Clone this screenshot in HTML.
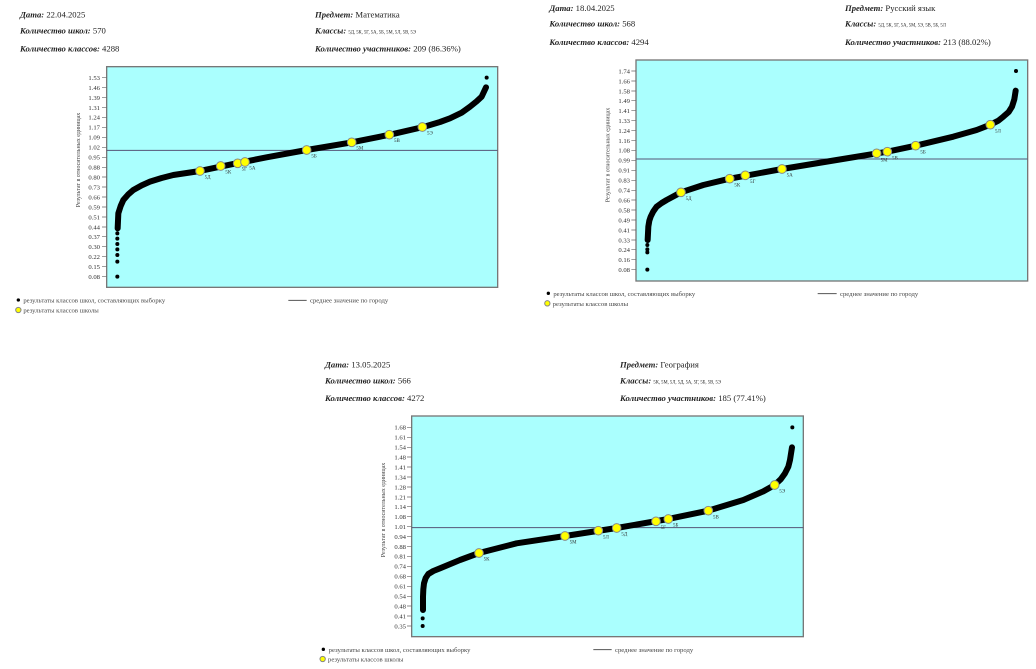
<!DOCTYPE html>
<html><head><meta charset="utf-8"><style>
html,body{margin:0;padding:0;background:#fff;}
svg{display:block;font-family:"Liberation Serif",serif;}
.h{font-size:26px;fill:#222;}
.b{font-weight:bold;font-style:italic;}
.t{font-size:20px;fill:#333;text-anchor:end;}
.l{font-size:20px;fill:#444;}
.c{font-size:15px;fill:#333;}
.k{font-size:14px;}
.yt{font-size:18px;fill:#444;}
.plot{fill:#aafffe;stroke:#777;stroke-width:4;}
.curve{fill:none;stroke:#000;stroke-width:18;stroke-linecap:round;stroke-linejoin:round;}
.y{fill:#ffff00;stroke:#888;stroke-width:3;}
</style></head><body>
<svg width="1036" height="669" viewBox="0 0 1036 669">
<!-- Chart 1 -->
<g transform="scale(0.33333)">
<text class="h" x="60" y="52"><tspan class="b">Дата:</tspan> 22.04.2025</text>
<text class="h" x="60" y="100"><tspan class="b">Количество школ:</tspan>  570</text>
<text class="h" x="60" y="155"><tspan class="b">Количество классов:</tspan> 4288</text>
<text class="h" x="945" y="52"><tspan class="b">Предмет:</tspan> Математика</text>
<text class="h" x="945" y="100"><tspan class="b">Классы:</tspan> <tspan class="k">5Д, 5К, 5Г, 5А, 5Б, 5М, 5Л, 5В, 5Э</tspan></text>
<text class="h" x="945" y="155"><tspan class="b">Количество участников:</tspan> 209 (86.36%)</text>
<rect class="plot" x="320" y="200" width="1173" height="662"/>
<g stroke="#666" stroke-width="2">
<path d="M306 233h14M306 263h14M306 293h14M306 323h14M306 352h14M306 382h14M306 412h14M306 442h14M306 472h14M306 502h14M306 531h14M306 561h14M306 591h14M306 621h14M306 651h14M306 681h14M306 710h14M306 740h14M306 770h14M306 800h14M306 830h14"/></g>
<g class="t">
<text x="300" y="240">1.53</text><text x="300" y="270">1.46</text><text x="300" y="300">1.39</text><text x="300" y="330">1.31</text><text x="300" y="359">1.24</text><text x="300" y="389">1.17</text><text x="300" y="419">1.09</text><text x="300" y="449">1.02</text><text x="300" y="479">0.95</text><text x="300" y="509">0.88</text><text x="300" y="538">0.80</text><text x="300" y="568">0.73</text><text x="300" y="598">0.66</text><text x="300" y="628">0.59</text><text x="300" y="658">0.51</text><text x="300" y="688">0.44</text><text x="300" y="717">0.37</text><text x="300" y="747">0.30</text><text x="300" y="777">0.22</text><text x="300" y="807">0.15</text><text x="300" y="837">0.08</text></g>
<text class="yt" transform="translate(240,480) rotate(-90)" text-anchor="middle">Результат в относительных единицах</text>
<line x1="320" y1="451" x2="1493" y2="451" stroke="#557" stroke-width="3"/>
<path class="curve" d="M353 685 L355 640 L362 618 L370 600 L384 584 L400 570 L425 556 L450 545 L485 534 L520 525 L600 513 L700 492 L800 472 L920 450 L1050 428 L1170 404 L1270 381 L1320 366 L1350 355 L1385 338 L1410 320 L1430 304 L1445 290 L1458 262"/>
<g fill="#000"><circle cx="352" cy="700" r="6"/><circle cx="352" cy="716" r="6"/><circle cx="352" cy="732" r="6"/><circle cx="352" cy="748" r="6"/><circle cx="352" cy="765" r="6"/><circle cx="352" cy="785" r="6"/><circle cx="352" cy="830" r="6"/><circle cx="1460" cy="233" r="6"/></g>
<g><circle class="y" cx="600" cy="513" r="13"/><circle class="y" cx="662" cy="498" r="13"/><circle class="y" cx="713" cy="490" r="13"/><circle class="y" cx="735" cy="486" r="13"/><circle class="y" cx="920" cy="450" r="13"/><circle class="y" cx="1055" cy="427" r="13"/><circle class="y" cx="1168" cy="404" r="13"/><circle class="y" cx="1267" cy="381" r="13"/></g>
<g class="c"><text x="614" y="536">5Д</text><text x="676" y="521">5К</text><text x="725" y="512">5Г</text><text x="748" y="508">5А</text><text x="934" y="472">5Б</text><text x="1069" y="449">5М</text><text x="1182" y="426">5В</text><text x="1281" y="404">5Э</text></g>
<circle cx="55" cy="900" r="5" fill="#000"/><text class="l" x="70" y="908">результаты классов школ, составляющих выборку</text>
<circle class="y" cx="55" cy="930" r="8"/><text class="l" x="70" y="938">результаты классов школы</text>
<line x1="865" y1="901" x2="920" y2="901" stroke="#555" stroke-width="3"/><text class="l" x="930" y="908">среднее значение по городу</text>
</g>
<!-- Chart 2 -->
<g transform="translate(520,0) scale(0.33333)">
<text class="h" x="88" y="33"><tspan class="b">Дата:</tspan> 18.04.2025</text>
<text class="h" x="88" y="80"><tspan class="b">Количество школ:</tspan>  568</text>
<text class="h" x="88" y="135"><tspan class="b">Количество классов:</tspan> 4294</text>
<text class="h" x="975" y="33"><tspan class="b">Предмет:</tspan> Русский язык</text>
<text class="h" x="975" y="80"><tspan class="b">Классы:</tspan> <tspan class="k">5Д, 5К, 5Г, 5А, 5М, 5Э, 5В, 5Б, 5Л</tspan></text>
<text class="h" x="975" y="135"><tspan class="b">Количество участников:</tspan> 213 (88.02%)</text>
<rect class="plot" x="348" y="180" width="1175" height="663"/>
<g stroke="#666" stroke-width="2"><path d="M334 213h14M334 243h14M334 273h14M334 302h14M334 332h14M334 362h14M334 392h14M334 422h14M334 451h14M334 481h14M334 511h14M334 541h14M334 571h14M334 600h14M334 630h14M334 660h14M334 690h14M334 720h14M334 749h14M334 779h14M334 809h14"/></g>
<g class="t">
<text x="330" y="220">1.74</text><text x="330" y="250">1.66</text><text x="330" y="280">1.58</text><text x="330" y="309">1.49</text><text x="330" y="339">1.41</text><text x="330" y="369">1.33</text><text x="330" y="399">1.24</text><text x="330" y="429">1.16</text><text x="330" y="458">1.08</text><text x="330" y="488">0.99</text><text x="330" y="518">0.91</text><text x="330" y="548">0.83</text><text x="330" y="578">0.74</text><text x="330" y="607">0.66</text><text x="330" y="637">0.58</text><text x="330" y="667">0.49</text><text x="330" y="697">0.41</text><text x="330" y="727">0.33</text><text x="330" y="756">0.24</text><text x="330" y="786">0.16</text><text x="330" y="816">0.08</text></g>
<text class="yt" transform="translate(268,465) rotate(-90)" text-anchor="middle">Результат в относительных единицах</text>
<line x1="348" y1="477" x2="1523" y2="477" stroke="#557" stroke-width="3"/>
<path class="curve" d="M383 720 L385 680 L388 662 L392 650 L400 634 L410 620 L425 609 L440 600 L483 577 L550 555 L629 536 L786 507 L950 480 L1102 455 L1187 437 L1300 410 L1370 390 L1411 374 L1435 362 L1450 350 L1466 336 L1476 320 L1483 298 L1487 272"/>
<g fill="#000"><circle cx="382" cy="735" r="6"/><circle cx="382" cy="748" r="6"/><circle cx="382" cy="757" r="6"/><circle cx="382" cy="809" r="6"/><circle cx="1488" cy="213" r="6"/></g>
<g><circle class="y" cx="483" cy="577" r="13"/><circle class="y" cx="629" cy="536" r="13"/><circle class="y" cx="676" cy="526" r="13"/><circle class="y" cx="786" cy="507" r="13"/><circle class="y" cx="1070" cy="460" r="13"/><circle class="y" cx="1102" cy="455" r="13"/><circle class="y" cx="1187" cy="437" r="13"/><circle class="y" cx="1411" cy="374" r="13"/></g>
<g class="c"><text x="497" y="600">5Д</text><text x="643" y="559">5К</text><text x="690" y="549">5Г</text><text x="800" y="530">5А</text><text x="1082" y="484">5М</text><text x="1116" y="478">5В</text><text x="1201" y="460">5Б</text><text x="1425" y="397">5Л</text></g>
<circle cx="85" cy="880" r="5" fill="#000"/><text class="l" x="100" y="888">результаты классов школ, составляющих выборку</text>
<circle class="y" cx="82" cy="910" r="8"/><text class="l" x="98" y="918">результаты классов школы</text>
<line x1="893" y1="881" x2="950" y2="881" stroke="#555" stroke-width="3"/><text class="l" x="960" y="888">среднее значение по городу</text>
</g>
<!-- Chart 3 -->
<g transform="translate(300,350) scale(0.33333)">
<text class="h" x="75" y="52"><tspan class="b">Дата:</tspan> 13.05.2025</text>
<text class="h" x="75" y="100"><tspan class="b">Количество школ:</tspan>  566</text>
<text class="h" x="75" y="153"><tspan class="b">Количество классов:</tspan> 4272</text>
<text class="h" x="960" y="52"><tspan class="b">Предмет:</tspan> География</text>
<text class="h" x="960" y="100"><tspan class="b">Классы:</tspan> <tspan class="k">5К, 5М, 5Л, 5Д, 5А, 5Г, 5Б, 5В, 5Э</tspan></text>
<text class="h" x="960" y="153"><tspan class="b">Количество участников:</tspan> 185 (77.41%)</text>
<rect class="plot" x="335" y="198" width="1175" height="662"/>
<g stroke="#666" stroke-width="2"><path d="M321 232h14M321 262h14M321 292h14M321 321h14M321 351h14M321 381h14M321 411h14M321 441h14M321 470h14M321 500h14M321 530h14M321 560h14M321 590h14M321 619h14M321 649h14M321 679h14M321 709h14M321 739h14M321 768h14M321 798h14M321 828h14"/></g>
<g class="t">
<text x="318" y="239">1.68</text><text x="318" y="269">1.61</text><text x="318" y="299">1.54</text><text x="318" y="328">1.48</text><text x="318" y="358">1.41</text><text x="318" y="388">1.34</text><text x="318" y="418">1.28</text><text x="318" y="448">1.21</text><text x="318" y="477">1.14</text><text x="318" y="507">1.08</text><text x="318" y="537">1.01</text><text x="318" y="567">0.94</text><text x="318" y="597">0.88</text><text x="318" y="626">0.81</text><text x="318" y="656">0.74</text><text x="318" y="686">0.68</text><text x="318" y="716">0.61</text><text x="318" y="746">0.54</text><text x="318" y="775">0.48</text><text x="318" y="805">0.41</text><text x="318" y="835">0.35</text></g>
<text class="yt" transform="translate(255,480) rotate(-90)" text-anchor="middle">Результат в относительных единицах</text>
<line x1="335" y1="533" x2="1510" y2="533" stroke="#557" stroke-width="3"/>
<path class="curve" d="M369 780 L369 740 L370 718 L372 700 L377 684 L385 672 L400 663 L420 655 L480 630 L537 609 L650 580 L795 558 L950 534 L1105 507 L1225 482 L1330 450 L1390 424 L1424 405 L1442 388 L1455 370 L1465 350 L1470 330 L1476 292"/>
<g fill="#000"><circle cx="368" cy="805" r="6"/><circle cx="368" cy="828" r="6"/><circle cx="1477" cy="232" r="6"/></g>
<g><circle class="y" cx="537" cy="609" r="13"/><circle class="y" cx="795" cy="558" r="13"/><circle class="y" cx="895" cy="542" r="13"/><circle class="y" cx="950" cy="534" r="13"/><circle class="y" cx="1068" cy="514" r="13"/><circle class="y" cx="1105" cy="507" r="13"/><circle class="y" cx="1225" cy="482" r="13"/><circle class="y" cx="1424" cy="405" r="13"/></g>
<g class="c"><text x="551" y="632">5К</text><text x="809" y="581">5М</text><text x="909" y="565">5Л</text><text x="964" y="557">5Д</text><text x="1082" y="537">5Г</text><text x="1119" y="530">5Б</text><text x="1239" y="505">5В</text><text x="1438" y="428">5Э</text></g>
<circle cx="70" cy="898" r="5" fill="#000"/><text class="l" x="86" y="906">результаты классов школ, составляющих выборку</text>
<circle class="y" cx="68" cy="927" r="8"/><text class="l" x="84" y="935">результаты классов школы</text>
<line x1="880" y1="899" x2="935" y2="899" stroke="#555" stroke-width="3"/><text class="l" x="945" y="906">среднее значение по городу</text>
</g>
</svg>
</body></html>
